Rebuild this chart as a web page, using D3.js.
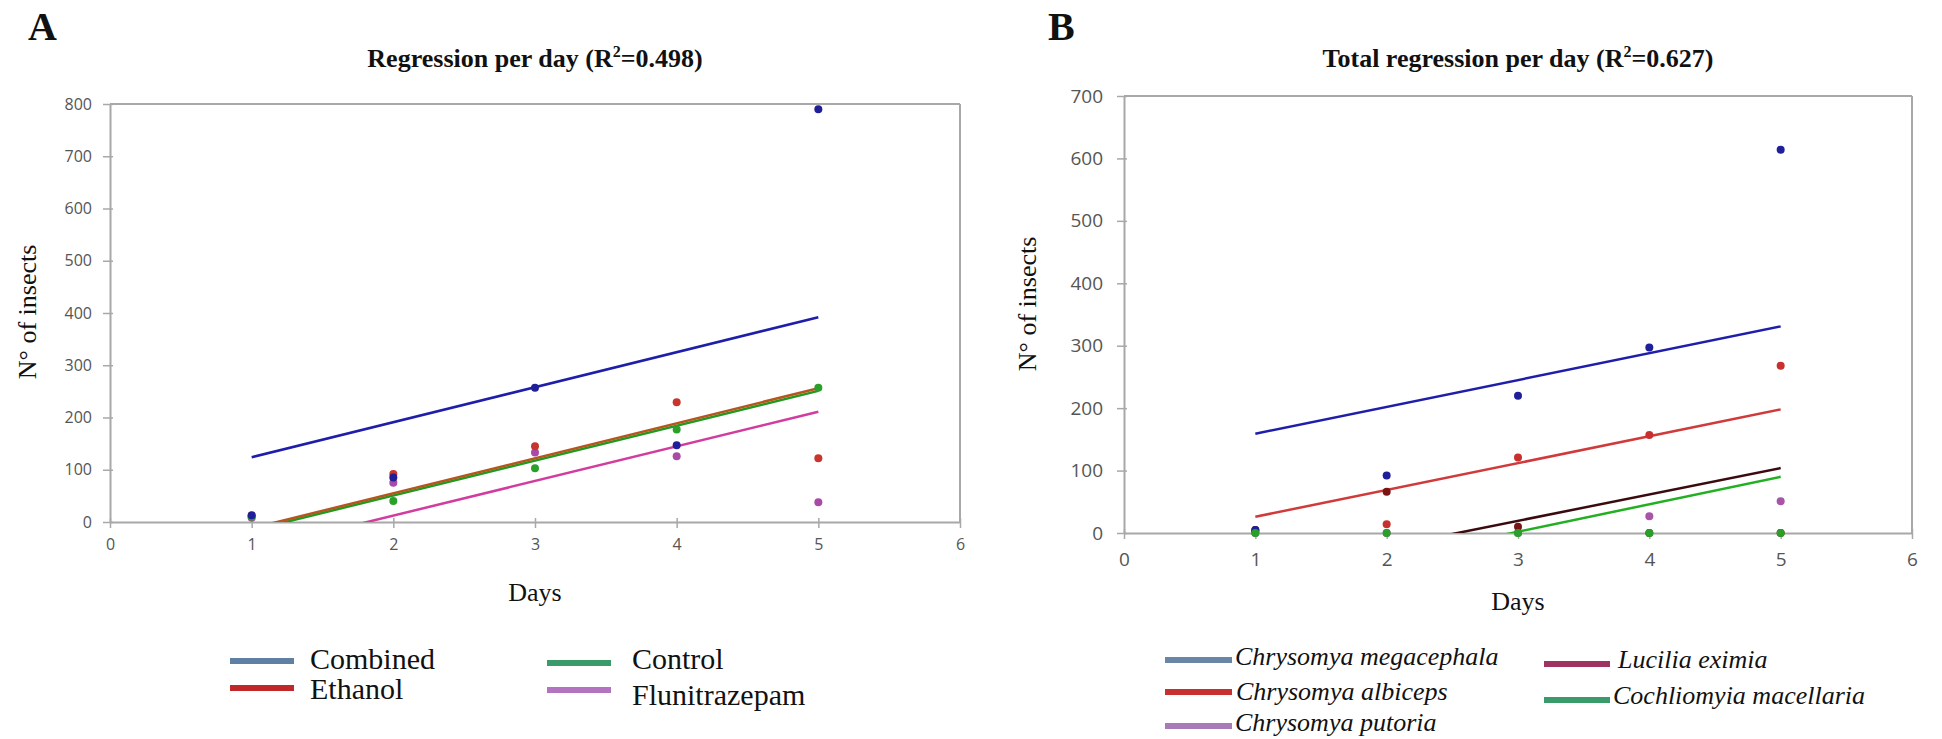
<!DOCTYPE html>
<html>
<head>
<meta charset="utf-8">
<script src="https://cdn.jsdelivr.net/npm/d3@7"></script>
<style>
  body { margin: 0; background: #fff; }
  .tick text { font-family: "Open Sans", sans-serif; fill: #555; }
  text.serif { font-family: "Liberation Serif", "Times New Roman", serif; fill: #111; }
</style>
</head>
<body>
<div id="chart"></div>
<script>
// ---- data ----
var days = [1, 2, 3, 4, 5];

// Panel A: points per day
var combinedA = [13, 85, 257, 147, 790];
var ethanolA = [12, 92, 145, 229, 122];
var controlA = [10, 40, 103, 177, 257];
var flunitrazepamA = [8, 75, 133, 126, 38];
// Panel A: trend lines, value at day 1 and at day 5
var trendCombinedA = [124, 392];
var trendEthanolA = [-12, 256];
var trendControlA = [-16, 251];
var trendFlunitrazepamA = [-54, 211];

// Panel B: points per day
var megacephalaB = [5, 92, 220, 297, 614];
var albicepsB = [2, 14, 121, 157, 268];
var putoriaB = [0, 0, 0, 27, 51];
var luciliaB = [5, 66, 10, 0, 0];
var cochliomyiaB = [0, 0, 0, 0, 0];
// Panel B: trend lines, value at day 1 and at day 5
var trendMegacephalaB = [159, 331];
var trendAlbicepsB = [26, 198];
var trendLuciliaB = [-65, 104];
var trendCochliomyiaB = [-86, 90];

var xTicks = [0, 1, 2, 3, 4, 5, 6];
var yTicksA = [0, 100, 200, 300, 400, 500, 600, 700, 800];
var yTicksB = [0, 100, 200, 300, 400, 500, 600, 700];

var svg = d3.select("#chart").append("svg")
    .attr("width", 1942)
    .attr("height", 739);

function drawPanel(p) {
    var x = d3.scaleLinear().domain([0, 6]).range([p.left, p.right]);
    var y = d3.scaleLinear().domain([0, p.ymax]).range([p.bottom, p.top]);
    var g = svg.append("g");

    // clip for trend lines
    svg.append("clipPath").attr("id", p.id + "-clip")
        .append("rect")
        .attr("x", p.left).attr("y", p.top)
        .attr("width", p.right - p.left).attr("height", p.bottom - p.top);

    // axes
    var yAxis = d3.axisLeft(y).tickValues(p.yTicks).tickSize(7).tickSizeOuter(0)
        .tickPadding(p.yPad).tickFormat(d3.format("d"));
    var xAxis = d3.axisBottom(x).tickValues(xTicks).tickSize(6).tickSizeOuter(0)
        .tickPadding(p.xPad).tickFormat(d3.format("d"));

    var ya = g.append("g").attr("transform", "translate(" + p.left + ",0)").call(yAxis);
    var xa = g.append("g").attr("transform", "translate(0," + p.bottom + ")").call(xAxis);
    ya.selectAll(".tick line").attr("x1", 3);
    xa.selectAll(".tick line").attr("y1", -4);
    [ya, xa].forEach(function (a) {
        a.select(".domain").attr("stroke", "#a8a8a8").attr("stroke-width", 2);
        a.selectAll(".tick line").attr("stroke", "#a8a8a8").attr("stroke-width", 1.5);
        a.selectAll(".tick text").style("font-size", p.tickFont + "px");
    });

    // top and right border of the plot area
    g.append("line").attr("x1", p.left).attr("x2", p.right)
        .attr("y1", p.top).attr("y2", p.top)
        .attr("stroke", "#a8a8a8").attr("stroke-width", 2);
    g.append("line").attr("x1", p.right).attr("x2", p.right)
        .attr("y1", p.top).attr("y2", p.bottom)
        .attr("stroke", "#a8a8a8").attr("stroke-width", 2);

    // trend lines
    var lines = g.append("g").attr("clip-path", "url(#" + p.id + "-clip)");
    p.trends.forEach(function (t) {
        lines.append("line")
            .attr("x1", x(1)).attr("y1", y(t.values[0]))
            .attr("x2", x(5)).attr("y2", y(t.values[1]))
            .attr("stroke", t.color)
            .attr("stroke-width", 2.5);
    });

    // points
    p.points.forEach(function (s) {
        g.append("g").selectAll("circle")
            .data(s.values)
            .enter()
            .append("circle")
            .attr("cx", function (d, i) { return x(days[i]); })
            .attr("cy", function (d) { return y(d); })
            .attr("r", 4)
            .attr("fill", s.color);
    });

    // titles and labels
    var title = g.append("text").attr("class", "serif")
        .attr("x", (p.left + p.right) / 2).attr("y", 67)
        .attr("text-anchor", "middle")
        .style("font-size", "26px").style("font-weight", "bold");
    title.append("tspan").text(p.title + " (R");
    title.append("tspan").attr("dy", -10).style("font-size", "16px").text("2");
    title.append("tspan").attr("dy", 10).text("=" + p.r2 + ")");

    g.append("text").attr("class", "serif")
        .attr("x", p.letterX).attr("y", 40)
        .style("font-size", "40px").style("font-weight", "bold")
        .text(p.letter);

    g.append("text").attr("class", "serif")
        .attr("transform", "translate(" + p.yLabelX + "," + p.yLabelY + ") rotate(-90)")
        .attr("text-anchor", "middle")
        .attr("dy", "0.35em")
        .style("font-size", "26px")
        .text("N° of insects");

    g.append("text").attr("class", "serif")
        .attr("x", (p.left + p.right) / 2).attr("y", p.daysY)
        .attr("text-anchor", "middle")
        .style("font-size", "26px")
        .text("Days");

    // legend
    p.legend.forEach(function (l) {
        g.append("line")
            .attr("x1", l.x).attr("x2", l.x + l.w)
            .attr("y1", l.y).attr("y2", l.y)
            .attr("stroke", l.color).attr("stroke-width", 6);
        g.append("text").attr("class", "serif")
            .attr("x", l.tx).attr("y", l.ty)
            .style("font-family", "'Liberation Serif', 'Times New Roman', serif")
            .style("font-size", p.legendFont + "px")
            .style("font-style", p.legendItalic ? "italic" : "normal")
            .text(l.name);
    });
}

drawPanel({
    id: "a", letter: "A", letterX: 28,
    title: "Regression per day", r2: "0.498",
    left: 110, right: 960, top: 104, bottom: 522, ymax: 800,
    yTicks: yTicksA, yPad: 11, xPad: 11, tickFont: 16,
    yLabelX: 27, yLabelY: 312, daysY: 601,
    trends: [
        { values: trendFlunitrazepamA, color: "#d23c9e" },
        { values: trendControlA, color: "#1f9a1f" },
        { values: trendEthanolA, color: "#b5561e" },
        { values: trendCombinedA, color: "#1e1eaa" }
    ],
    points: [
        { values: flunitrazepamA, color: "#a94aa8" },
        { values: ethanolA, color: "#c8352f" },
        { values: controlA, color: "#2aa02a" },
        { values: combinedA, color: "#1f1f99" }
    ],
    legendFont: 30, legendItalic: false,
    legend: [
        { name: "Combined", color: "#5f7fa3", x: 230, w: 64, y: 661, tx: 310, ty: 669 },
        { name: "Ethanol", color: "#c0282a", x: 230, w: 64, y: 688, tx: 310, ty: 699 },
        { name: "Control", color: "#3a9a6a", x: 547, w: 64, y: 663, tx: 632, ty: 669 },
        { name: "Flunitrazepam", color: "#b274c0", x: 547, w: 64, y: 690, tx: 632, ty: 705 }
    ]
});

drawPanel({
    id: "b", letter: "B", letterX: 1048,
    title: "Total regression per day", r2: "0.627",
    left: 1124, right: 1912, top: 96, bottom: 533, ymax: 700,
    yTicks: yTicksB, yPad: 14, xPad: 14, tickFont: 19,
    yLabelX: 1027, yLabelY: 304, daysY: 610,
    trends: [
        { values: trendCochliomyiaB, color: "#22b022" },
        { values: trendLuciliaB, color: "#3a0a0e" },
        { values: trendAlbicepsB, color: "#d03a3a" },
        { values: trendMegacephalaB, color: "#1e1eaa" }
    ],
    points: [
        { values: putoriaB, color: "#a854a8" },
        { values: albicepsB, color: "#c83030" },
        { values: luciliaB, color: "#7a1414" },
        { values: megacephalaB, color: "#1f1f99" },
        { values: cochliomyiaB, color: "#2aa02a" }
    ],
    legendFont: 26, legendItalic: true,
    legend: [
        { name: "Chrysomya megacephala", color: "#6a86a6", x: 1165, w: 67, y: 660, tx: 1235, ty: 665 },
        { name: "Chrysomya albiceps", color: "#c83030", x: 1165, w: 67, y: 692, tx: 1236, ty: 700 },
        { name: "Chrysomya putoria", color: "#a87ab8", x: 1165, w: 67, y: 726, tx: 1235, ty: 731 },
        { name: "Lucilia eximia", color: "#a03262", x: 1544, w: 66, y: 664, tx: 1618, ty: 668 },
        { name: "Cochliomyia macellaria", color: "#3a9a6a", x: 1544, w: 66, y: 700, tx: 1613, ty: 704 }
    ]
});
</script>
</body>
</html>
